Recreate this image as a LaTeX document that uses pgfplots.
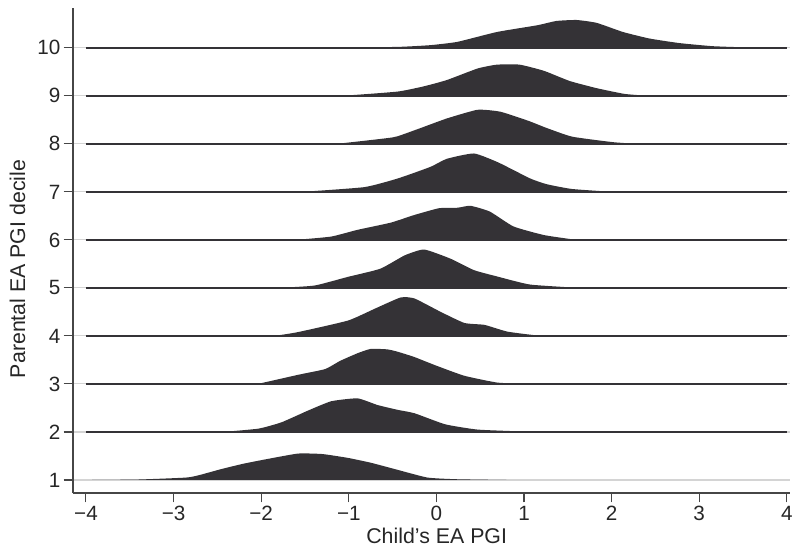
\documentclass[border=0pt]{standalone}
\usepackage{pgfplots}
\pgfplotsset{compat=1.18}
\usepackage{fontspec}
\setmainfont{Liberation Sans}
\definecolor{ridge}{RGB}{52,50,54}
\definecolor{spine}{RGB}{70,70,70}
\definecolor{gridc}{RGB}{212,212,212}
\begin{document}
\begin{tikzpicture}
\begin{axis}[name=ax, scale only axis, width=538pt, height=363.75pt,
 xmin=-4.148, xmax=4.04, ymin=0.729, ymax=10.83,
 axis x line*=bottom, axis y line*=left,
 axis line style={spine, line width=0.8pt, -},
 tick align=outside, major tick length=7pt, tick style={spine, line width=0.8pt},
 xtick={-4,...,4}, xticklabels={−4,−3,−2,−1,0,1,2,3,4},
 ytick={1,...,10}, yticklabels={1,2,3,4,5,6,7,8,9,10},
 ymajorgrids, grid style={gridc, line width=0.8pt},
 tick label style={font=\fontsize{15.5}{18}\selectfont, text=black!85},
 xticklabel style={inner sep=0pt, yshift=-2.5pt},
 yticklabel style={inner sep=0pt, xshift=-2.25pt},
 label style={font=\fontsize{16}{19}\selectfont, text=black!85},
 xlabel={Child’s EA PGI}, ylabel={Parental EA PGI decile},
 xlabel style={at={(axis description cs:0.507,-0.0876)}, anchor=center},
 ylabel style={at={(axis description cs:-0.0775,0.462)}, anchor=center},
 every axis plot/.append style={smooth, tension=0.3},
]
% ridge 10
\addplot[fill=ridge, draw=none] table[x=x, y expr=\thisrow{h}+10] {
x h
-1.2 0
-0.44 0.02
-0.07 0.056
0.24 0.125
0.69 0.33
1.15 0.47
1.37 0.56
1.60 0.58
1.83 0.52
2.13 0.33
2.43 0.195
2.77 0.10
3.15 0.035
3.53 0.01
3.9 0
};
% ridge 9
\addplot[fill=ridge, draw=none] table[x=x, y expr=\thisrow{h}+9] {
x h
-1.3 0
-1.01 0.01
-0.44 0.09
-0.14 0.2
0.12 0.33
0.47 0.57
0.69 0.65
0.95 0.65
1.23 0.52
1.52 0.31
1.83 0.16
2.15 0.04
2.43 0
};
% ridge 8
\addplot[fill=ridge, draw=none] table[x=x, y expr=\thisrow{h}+8] {
x h
-1.3 0
-1.12 0.005
-0.56 0.12
-0.44 0.16
-0.18 0.33
0.12 0.53
0.47 0.71
0.73 0.67
1.05 0.48
1.26 0.33
1.55 0.15
2.02 0.035
2.3 0
};
% ridge 7
\addplot[fill=ridge, draw=none] table[x=x, y expr=\thisrow{h}+7] {
x h
-1.6 0
-1.5 0.005
-0.82 0.1
-0.44 0.28
-0.07 0.52
0.12 0.69
0.43 0.8
0.71 0.61
1.07 0.28
1.26 0.16
1.55 0.06
2.02 0
};
% ridge 6
\addplot[fill=ridge, draw=none] table[x=x, y expr=\thisrow{h}+6] {
x h
-1.7 0
-1.58 0.005
-1.2 0.07
-0.9 0.21
-0.52 0.36
-0.25 0.52
0.03 0.66
0.24 0.67
0.39 0.71
0.61 0.59
0.88 0.28
1.23 0.1
1.6 0
};
% ridge 5
\addplot[fill=ridge, draw=none] table[x=x, y expr=\thisrow{h}+5] {
x h
-1.9 0
-1.77 0.005
-1.39 0.05
-1.01 0.23
-0.64 0.4
-0.36 0.68
-0.14 0.8
0.16 0.61
0.43 0.37
0.69 0.24
1.07 0.07
1.64 0
};
% ridge 4
\addplot[fill=ridge, draw=none] table[x=x, y expr=\thisrow{h}+4] {
x h
-2.0 0
-1.84 0.005
-1.58 0.08
-1.01 0.32
-0.7 0.57
-0.41 0.8
-0.25 0.78
0.05 0.5
0.32 0.27
0.55 0.23
0.81 0.09
1.15 0.01
1.3 0
};
% ridge 3
\addplot[fill=ridge, draw=none] table[x=x, y expr=\thisrow{h}+3] {
x h
-2.1 0
-2.03 0.005
-1.58 0.19
-1.27 0.31
-1.1 0.48
-0.9 0.64
-0.75 0.73
-0.56 0.72
-0.44 0.67
-0.25 0.56
0.0 0.38
0.32 0.17
0.69 0.03
1.0 0
};
% ridge 2
\addplot[fill=ridge, draw=none] table[x=x, y expr=\thisrow{h}+2] {
x h
-2.5 0
-2.41 0.005
-2.03 0.07
-1.77 0.2
-1.46 0.45
-1.2 0.64
-0.9 0.7
-0.67 0.56
-0.44 0.46
-0.25 0.39
0.1 0.16
0.47 0.05
1.0 0.01
1.3 0
};
% ridge 1
\addplot[fill=ridge, draw=none] table[x=x, y expr=\thisrow{h}+1] {
x h
-3.93 0
-3.4 0.01
-2.86 0.05
-2.71 0.1
-2.45 0.23
-2.2 0.34
-1.95 0.43
-1.58 0.55
-1.3 0.54
-1.01 0.46
-0.75 0.36
-0.44 0.21
-0.1 0.05
0.24 0.015
0.8 0
};
% baselines
\pgfplotsinvokeforeach{2,...,10}{
  \addplot[ridge, line width=1pt, sharp plot] coordinates {(-4,#1) (4,#1)};
}
\end{axis}
\pgfresetboundingbox
\path ([xshift=-54.75pt,yshift=-42pt]ax.south west) rectangle ([xshift=3.5pt,yshift=6pt]ax.north east);
\end{tikzpicture}
\end{document}
